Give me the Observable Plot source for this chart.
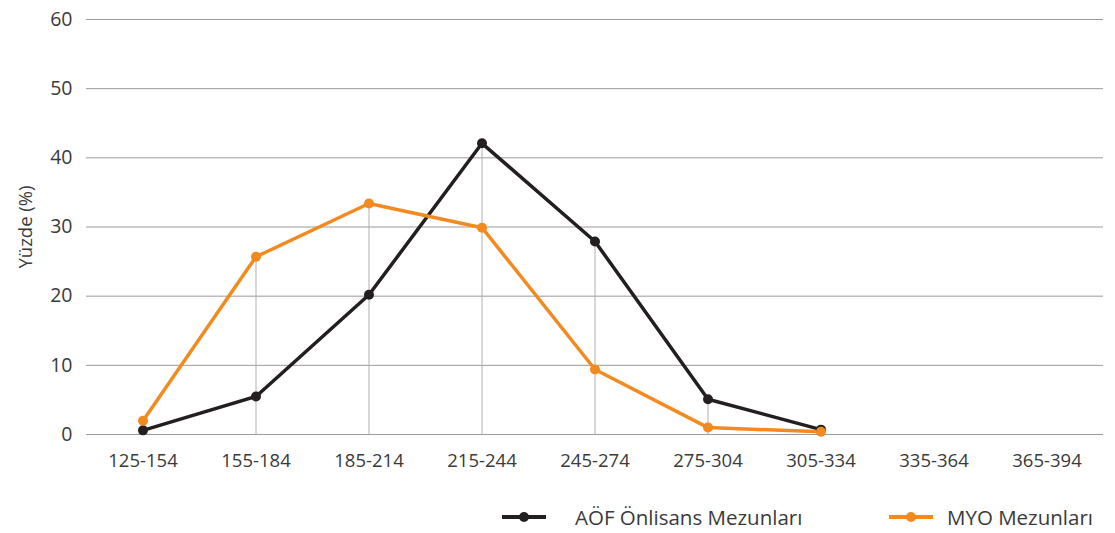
<!DOCTYPE html>
<html>
<head>
<meta charset="utf-8">
<script src="https://cdn.jsdelivr.net/npm/d3@7"></script>
<script src="https://cdn.jsdelivr.net/npm/@observablehq/plot@0.6"></script>
<style>
  html, body { margin: 0; padding: 0; background: #fff; }
  body { width: 1115px; height: 533px; overflow: hidden; font-family: "Open Sans", sans-serif; }
  #chart { height: 480px; }
  #chart svg { display: block; }
  #chart svg text { font-size: 18.5px !important; fill: #3a3a3a; }
  #chart svg g[aria-label="y-axis tick label"] text { font-size: 19.5px !important; }
  #legend { position: relative; height: 53px; }
  .sw, .lt { position: absolute; top: 37px; transform: translateY(-50%); }
  .sw svg { display: block; }
  .lt { font-size: 20.5px; line-height: 24px; color: #3a3a3a; white-space: nowrap; }
</style>
</head>
<body>
<div id="chart"></div>
<div id="legend"></div>
<script>
const categories = ["125-154","155-184","185-214","215-244","245-274","275-304","305-334","335-364","365-394"];
const aofValues = [0.6, 5.5, 20.2, 42.1, 27.9, 5.1, 0.7, null, null];
const myoValues = [2.0, 25.7, 33.4, 29.9, 9.4, 1.0, 0.4, null, null];
const seriesNames = ["AÖF Önlisans Mezunları", "MYO Mezunları"];
const seriesColors = ["#231f20", "#f38a1f"];
const yTicks = [0, 10, 20, 30, 40, 50, 60];

const rows = [];
categories.forEach((c, i) => {
  if (aofValues[i] != null) rows.push({cat: c, value: aofValues[i], series: seriesNames[0]});
  if (myoValues[i] != null) rows.push({cat: c, value: myoValues[i], series: seriesNames[1]});
});
const drops = categories.map((c, i) => ({cat: c, top: Math.max(aofValues[i] ?? 0, myoValues[i] ?? 0)}))
  .filter(d => d.top > 0);

const chart = Plot.plot({
  width: 1115,
  height: 480,
  marginLeft: 86,
  marginRight: 12,
  marginTop: 19,
  marginBottom: 46,
  style: {fontFamily: "'Open Sans', sans-serif", fontSize: "18.5px", color: "#3a3a3a", background: "#fff"},
  x: {type: "band", domain: categories, padding: 0, align: 0.5, tickSize: 0, tickPadding: 19, label: null},
  y: {domain: [0, 60], ticks: yTicks, tickSize: 0, tickPadding: 14, label: "Yüzde (%)", labelAnchor: "center", labelArrow: "none", labelOffset: 68},
  color: {domain: seriesNames, range: seriesColors},
  marks: [
    Plot.ruleY(yTicks, {stroke: "#9a9a9a", strokeWidth: 1}),
    Plot.ruleX(drops, {x: "cat", y1: 0, y2: "top", stroke: "#b0b0b0", strokeWidth: 1}),
    Plot.line(rows, {x: "cat", y: "value", z: "series", stroke: "series", strokeWidth: 3.5}),
    Plot.dot(rows, {x: "cat", y: "value", fill: "series", r: 5})
  ]
});
document.getElementById("chart").appendChild(chart);

const legend = document.getElementById("legend");
const swatchLefts = [502, 889];
const textLefts = [575, 947];
seriesNames.forEach((name, i) => {
  const sw = document.createElement("div");
  sw.className = "sw";
  sw.style.left = swatchLefts[i] + "px";
  sw.innerHTML = `<svg width="44" height="12"><line x1="0" y1="6" x2="44" y2="6" stroke="${seriesColors[i]}" stroke-width="4"/><circle cx="22" cy="6" r="5" fill="${seriesColors[i]}"/></svg>`;
  legend.appendChild(sw);
  const t = document.createElement("div");
  t.className = "lt";
  t.style.left = textLefts[i] + "px";
  t.textContent = name;
  legend.appendChild(t);
});
</script>
</body>
</html>
